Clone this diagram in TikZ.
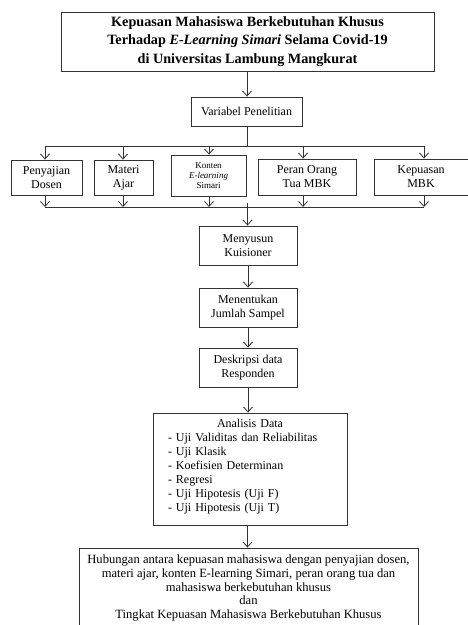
\documentclass[tikz,border=0pt]{standalone}
\usepackage{fontspec}
\setmainfont{Liberation Serif}
\usetikzlibrary{arrows.meta}
\begin{document}
\begin{tikzpicture}[x=1pt,y=-1pt,
  box/.style={draw=black!80, line width=0.9pt, inner sep=0pt, align=center},
  txt/.style={font=\fontsize{12}{14}\selectfont},
  arr/.style={draw=black!80, line width=0.8pt, -{Straight Barb[length=5pt,width=9pt,line width=0.8pt]}},
  ln/.style={draw=black!80, line width=0.8pt}]
\useasboundingbox (0,0) rectangle (467,625);
% title
\node[box, minimum width=373pt, minimum height=59pt, font=\fontsize{14.2}{18.5}\selectfont\bfseries] (title) at (247.5,41.5)
  {Kepuasan Mahasiswa Berkebutuhan Khusus\\Terhadap \textit{E-Learning Simari} Selama Covid-19\\di Universitas Lambung Mangkurat};
\node[box, txt, minimum width=111pt, minimum height=29pt] (var) at (246.5,111.5) {Variabel Penelitian};
% five variables
\node[box, txt, minimum width=71pt, minimum height=35pt] (pen) at (46.5,177.5) {Penyajian\\Dosen};
\node[box, txt, minimum width=59pt, minimum height=35pt] (mat) at (123.5,177.5) {Materi\\Ajar};
\node[box, minimum width=75pt, minimum height=41pt, font=\fontsize{9}{10.2}\selectfont] (kon) at (208.5,175.5) {Konten\\\textit{E-learning}\\Simari};
\node[box, txt, minimum width=98pt, minimum height=36pt] (per) at (307,177) {Peran Orang\\Tua MBK};
\node[box, txt, minimum width=94pt, minimum height=36pt] (kep) at (421,177) {Kepuasan\\MBK};
% steps
\node[box, txt, minimum width=98pt, minimum height=39pt] (meny) at (248,245.5) {Menyusun\\Kuisioner};
\node[box, txt, minimum width=98pt, minimum height=39pt] (ment) at (248,307.5) {Menentukan\\Jumlah Sampel};
\node[box, txt, minimum width=98pt, minimum height=39pt] (desk) at (248,367.5) {Deskripsi data\\Responden};
\node[box, minimum width=194pt, minimum height=112pt] (ana) at (250,469) {};
\node[txt, text width=164pt, align=left, inner sep=0pt] (anatxt) at (250,466.5)
  {\makebox[\linewidth][c]{Analisis Data}\\
   - Uji Validitas dan Reliabilitas\\
   - Uji Klasik\\
   - Koefisien Determinan\\
   - Regresi\\
   - Uji Hipotesis (Uji F)\\
   - Uji Hipotesis (Uji T)};
\node[box, minimum width=339pt, minimum height=80pt, font=\fontsize{12.6}{13.8}\selectfont] (hub) at (248.5,588)
  {Hubungan antara kepuasan mahasiswa dengan penyajian dosen,\\
   materi ajar, konten E-learning Simari, peran orang tua dan\\
   mahasiswa berkebutuhan khusus\\
   dan\\
   Tingkat Kepuasan Mahasiswa Berkebutuhan Khusus};
% connectors
\draw[arr] (title.south -| 247,0) -- (var.north -| 247,0);
\coordinate (split) at (247,146);
\coordinate (s1) at (45,146);
\coordinate (s2) at (123,146);
\coordinate (s3) at (209,146);
\coordinate (s4) at (303,146);
\coordinate (s5) at (424,146);
\draw[ln] (var.south -| split) -- (split);
\draw[ln] (s1) -- (s5);
\foreach \s/\b in {s1/pen,s2/mat,s3/kon,s4/per,s5/kep}
  \draw[arr] (\s) -- (\s |- \b.north);
\coordinate (j1) at (45,207);
\coordinate (j2) at (123,207);
\coordinate (j3) at (209,207);
\coordinate (j4) at (303,207);
\coordinate (j5) at (424,207);
\foreach \s/\b in {j1/pen,j2/mat,j3/kon,j4/per,j5/kep}
  \draw[arr] (\s |- \b.south) -- (\s);
\draw[ln] (j1) -- (j5);
\coordinate (join) at (247.5,203);
\draw[arr] (join) -- (join |- meny.north);
\draw[arr] (meny.south) -- (ment.north);
\draw[arr] (ment.south) -- (desk.north);
\draw[arr] (desk.south) -- (desk.south |- ana.north);
\draw[arr] (ana.south -| 247.5,0) -- (hub.north -| 247.5,0);
\end{tikzpicture}
\end{document}
